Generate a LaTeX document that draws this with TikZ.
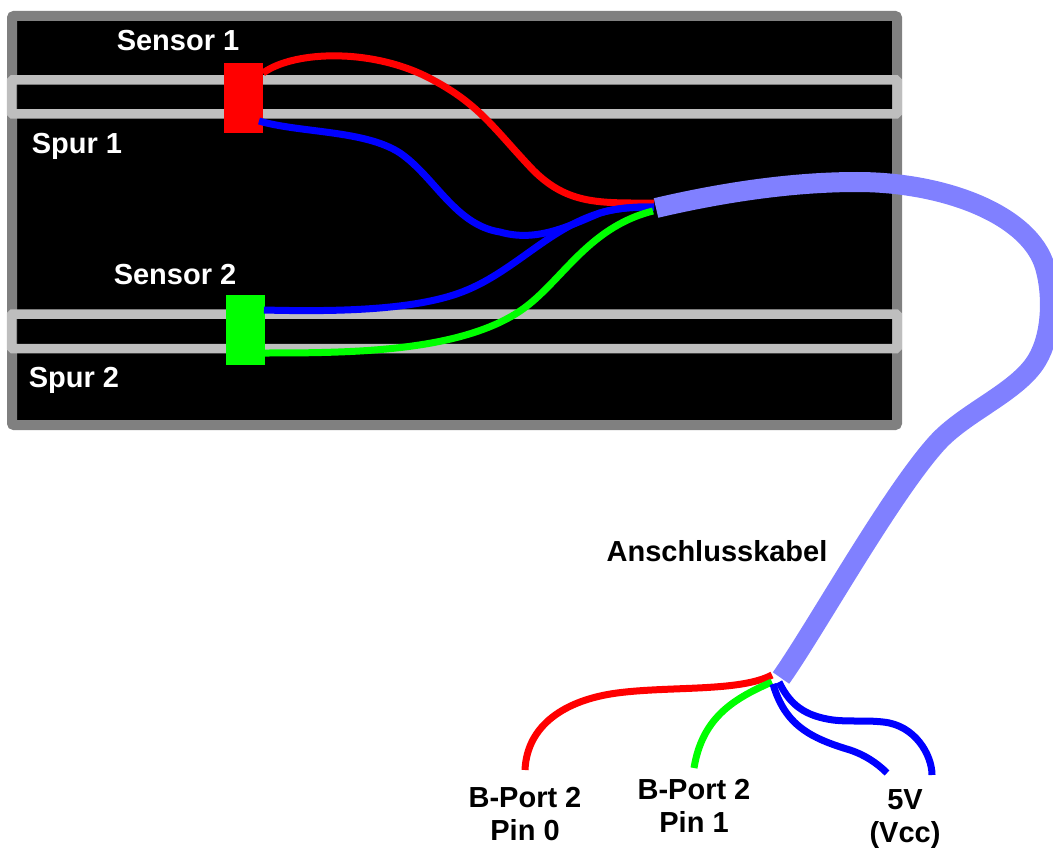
\documentclass[tikz,border=0pt]{standalone}
\usepackage{fontspec}
\setmainfont{Liberation Sans}
\usetikzlibrary{positioning}
\definecolor{framegray}{RGB}{128,128,128}
\definecolor{trackgray}{RGB}{190,190,190}
\definecolor{cablecol}{RGB}{128,128,255}
\tikzset{
	wire/.style={line width=7pt},
	track/.style={draw=trackgray,line width=9.5pt,rounded corners=1pt},
	sensorbox/.style={minimum width=39pt,minimum height=70pt,inner sep=0pt,outer sep=0pt},
	lab/.style={font=\fontsize{29}{33.5}\selectfont\bfseries,align=center,inner sep=0pt},
}
\begin{document}
\begin{tikzpicture}[x=1pt,y=-1pt]
	\useasboundingbox (0,0) rectangle (1053,848);
	\draw[framegray,fill=black,line width=10pt,rounded corners=2pt] (12,16) rectangle (897,425);
	\draw[track] (11.5,80) rectangle (897,114);
	\draw[track] (11.5,314) rectangle (897,348.5);
	\node (sensora) [sensorbox,fill=red] at (243.5,98) {};
	\node (sensorb) [sensorbox,fill=green] at (245.5,330) {};
	\coordinate (sensorared) at (263,73);
	\coordinate (sensorablue) at (259,121);
	\coordinate (sensorbblue) at (264,310);
	\coordinate (sensorbgreen) at (265,353);
	\coordinate (boardred) at (654,203);
	\coordinate (boardblue) at (654,207);
	\coordinate (boardgreen) at (653,211);
	\coordinate (cablea) at (656,208);
	\coordinate (cableb) at (781,678);
	\coordinate (forkred) at (772,675);
	\coordinate (forkgreen) at (772,682);
	\coordinate (forkbluea) at (773,684);
	\coordinate (forkblueb) at (779,682);
	\coordinate (endred) at (525,770);
	\coordinate (endgreen) at (694,768);
	\coordinate (endbluea) at (887,773);
	\coordinate (endblueb) at (932,775);
	\draw[cablecol,line width=20pt] (cablea)
	.. controls (720,193) and (790,182) .. (857,182)
	.. controls (945,182) and (1030,215) .. (1045,267)
	.. controls (1053,295) and (1052,335) .. (1037,360)
	.. controls (1018,392) and (965,412) .. (937,443)
	.. controls (890,495) and (815,630) .. (cableb);
	\draw[wire,red] (sensorared)
	.. controls (295,50) and (375,48) .. (433,80)
	.. controls (480,105) and (495,130) .. (533,170)
	.. controls (568,205) and (600,203) .. (boardred);
	\draw[wire,blue] (sensorablue)
	.. controls (300,133) and (365,130) .. (400,153)
	.. controls (435,177) and (455,225) .. (500,232)
	.. controls (535,242) and (565,228) .. (600,213)
	.. controls (620,207) and (640,207) .. (boardblue);
	\draw[wire,blue] (sensorbblue)
	.. controls (340,312) and (420,310) .. (467,290)
	.. controls (515,270) and (550,228) .. (600,213)
	.. controls (620,207) and (640,207) .. (boardblue);
	\draw[wire,green] (sensorbgreen)
	.. controls (350,353) and (455,352) .. (517,313)
	.. controls (560,286) and (585,228) .. (boardgreen);
	\draw[wire,red] (endred)
	.. controls (527,725) and (565,700) .. (617,693)
	.. controls (670,686) and (740,692) .. (forkred);
	\draw[wire,green] (endgreen)
	.. controls (702,720) and (730,700) .. (forkgreen);
	\draw[wire,blue] (forkbluea)
	.. controls (785,725) and (810,738) .. (850,750)
	.. controls (865,755) and (877,763) .. (endbluea);
	\draw[wire,blue] (forkblueb)
	.. controls (790,705) and (805,716) .. (833,720)
	.. controls (850,722) and (865,720) .. (883,722)
	.. controls (915,725) and (932,755) .. (endblueb);
	\node (sensoratext) [lab,white] at (178,41) {Sensor 1};
	\node (spuratext) [lab,white] at (77,146) {Spur 1};
	\node (sensorbtext) [lab,white] at (175,275) {Sensor 2};
	\node (spurbtext) [lab,white] at (74,380) {Spur 2};
	\node (cabletext) [lab] at (717,551) {Anschlusskabel};
	\node (pinatext) [lab] at (525,814) {B-Port 2\\Pin 0};
	\node (pinbtext) [lab] at (694,806) {B-Port 2\\Pin 1};
	\node (vcctext) [lab] at (905,819) {5V\\(Vcc)};
\end{tikzpicture}
\end{document}
